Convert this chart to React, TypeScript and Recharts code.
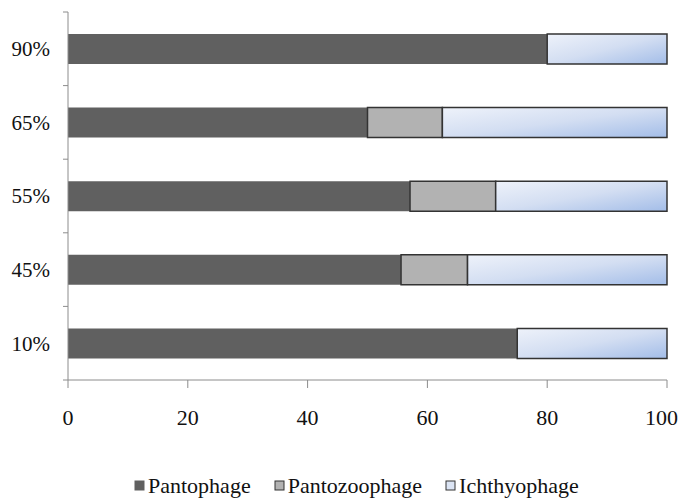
import { BarChart, Bar, XAxis, YAxis, Legend } from "recharts";

const groups = ["90%", "65%", "55%", "45%", "10%"];
const pantophage = [80, 50, 57.1, 55.6, 75];
const pantozoophage = [0, 12.5, 14.3, 11.1, 0];
const ichthyophage = [20, 37.5, 28.6, 33.3, 25];
const xTicks = [0, 20, 40, 60, 80, 100];

const data = groups.map((g, i) => ({
  group: g,
  Pantophage: pantophage[i],
  Pantozoophage: pantozoophage[i],
  Ichthyophage: ichthyophage[i],
}));

const FONT = "'Liberation Serif', 'Times New Roman', serif";
const AXIS = "#8c8c8c";
const BAND = (372 - 4) / groups.length;

// category label plus a short tick on each band boundary
const YTick = (props: any) => {
  const { x, y, payload, index } = props;
  return (
    <g>
      <line x1={x + 3} x2={x + 8} y1={y - BAND / 2} y2={y - BAND / 2} stroke={AXIS} />
      {index === groups.length - 1 && (
        <line x1={x + 3} x2={x + 8} y1={y + BAND / 2} y2={y + BAND / 2} stroke={AXIS} />
      )}
      <text x={x - 10} y={y} dy="0.35em" textAnchor="end" fill="#111" fontSize={21} fontFamily={FONT}>
        {payload.value}
      </text>
    </g>
  );
};

const legendItems = [
  { name: "Pantophage", fill: "#606060", stroke: "#606060" },
  { name: "Pantozoophage", fill: "#b2b2b2", stroke: "#333" },
  { name: "Ichthyophage", fill: "#dbe4f4", stroke: "#333" },
];

const LegendBox = () => (
  <div
    style={{
      display: "flex",
      justifyContent: "flex-start",
      gap: 23,
      fontFamily: FONT,
      fontSize: 22,
      color: "#111",
      lineHeight: "24px",
      paddingLeft: 126,
    }}
  >
    {legendItems.map((it) => (
      <span key={it.name} style={{ display: "flex", alignItems: "center" }}>
        <svg width={12} height={12} style={{ marginRight: 2 }}>
          <rect x={1} y={1} width={9} height={9} fill={it.fill} stroke={it.stroke} />
        </svg>
        {it.name}
      </span>
    ))}
  </div>
);

export default function App() {
  return (
    <BarChart
      width={670}
      height={491}
      data={data}
      layout="vertical"
      margin={{ top: 4, right: 11, bottom: 1, left: 0 }}
      barSize={30}
    >
      <defs>
        <linearGradient id="ichthyo" x1="0" y1="0" x2="1" y2="1">
          <stop offset="0%" stopColor="#eef2fa" />
          <stop offset="50%" stopColor="#d3def2" />
          <stop offset="100%" stopColor="#a3bde8" />
        </linearGradient>
      </defs>
      <XAxis
        type="number"
        domain={[0, 100]}
        ticks={xTicks}
        height={94}
        stroke={AXIS}
        tickSize={8}
        tickMargin={21}
        tick={{ fill: "#111", fontSize: 22, fontFamily: FONT }}
      />
      <YAxis
        type="category"
        dataKey="group"
        width={60}
        stroke={AXIS}
        tickLine={false}
        tick={<YTick />}
      />
      <Legend verticalAlign="bottom" content={<LegendBox />} />
      <Bar dataKey="Pantophage" stackId="s" fill="#606060" isAnimationActive={false} />
      <Bar dataKey="Pantozoophage" stackId="s" fill="#b2b2b2" stroke="#333" strokeWidth={1.5} isAnimationActive={false} />
      <Bar dataKey="Ichthyophage" stackId="s" fill="url(#ichthyo)" stroke="#333" strokeWidth={1.5} isAnimationActive={false} />
    </BarChart>
  );
}
